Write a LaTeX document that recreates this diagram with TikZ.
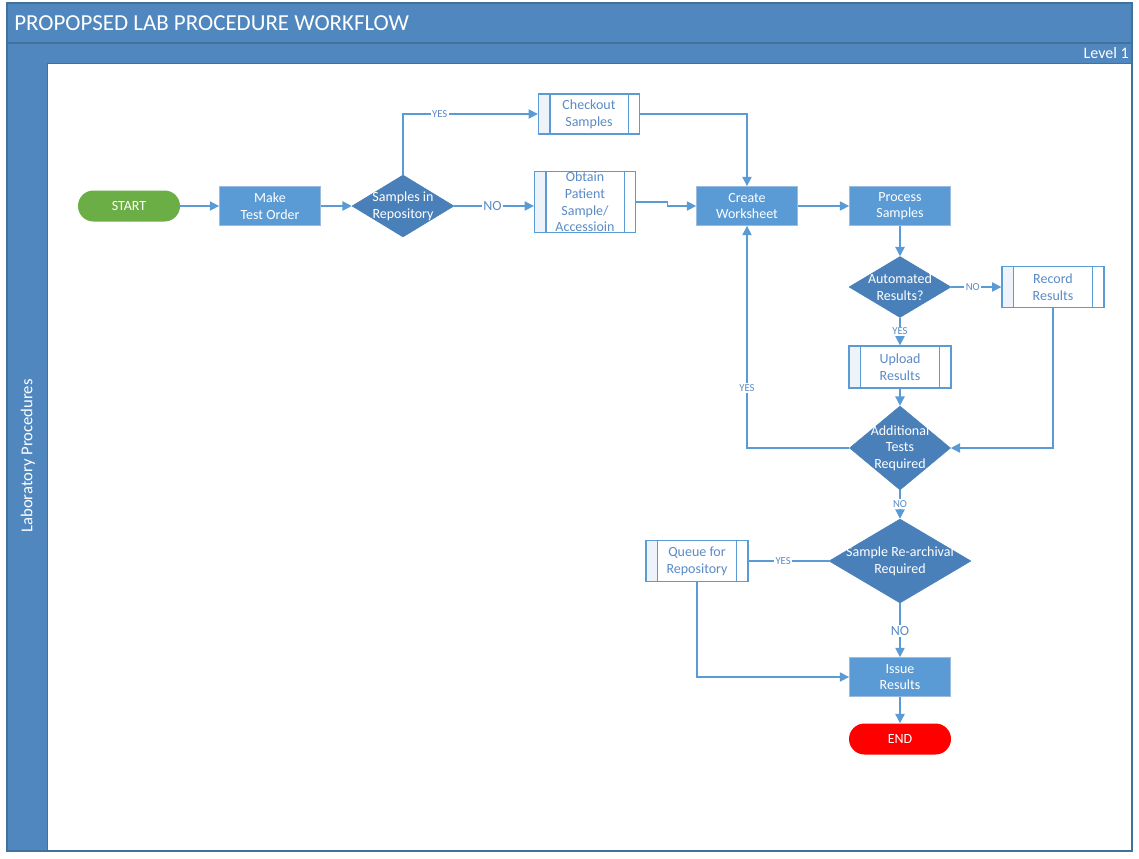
\documentclass[tikz,border=0pt]{standalone}
\usepackage{fontspec}
\setmainfont{Carlito}
\usetikzlibrary{shapes.geometric,arrows.meta,calc}

\definecolor{hdrblue}{HTML}{4F87BE}
\definecolor{hdrline}{HTML}{41719C}
\definecolor{boxblue}{HTML}{5B9BD5}
\definecolor{boxedge}{HTML}{9DBBDD}
\definecolor{dmdblue}{HTML}{4A80B9}
\definecolor{lineblue}{HTML}{5B9BD5}
\definecolor{pptext}{HTML}{5A8BC6}
\definecolor{ppstrip}{HTML}{EEF3FA}
\definecolor{startgreen}{HTML}{6AAE45}
\definecolor{endred}{HTML}{FF0000}

\tikzset{
  ntext/.style={font=\fontsize{10.5}{12.5}\selectfont, align=center, inner sep=0pt},
  procbox/.style={rectangle, fill=boxblue, draw=boxedge, line width=0.6pt,
    minimum width=75.75pt, minimum height=29.25pt, inner sep=0pt},
  dmd/.style={diamond, fill=dmdblue, draw=dmdblue, inner sep=0pt},
  ppbox/.style={rectangle, fill=white, draw=boxblue, line width=1pt,
    minimum width=75.75pt, inner sep=0pt,
    path picture={
      \fill[ppstrip] (path picture bounding box.north west) rectangle
        ([xshift=8.5pt]path picture bounding box.south west);
      \draw[boxblue, line width=1pt]
        ([xshift=8.5pt]path picture bounding box.north west) --
        ([xshift=8.5pt]path picture bounding box.south west);
      \draw[boxblue, line width=1pt]
        ([xshift=-8.5pt]path picture bounding box.north east) --
        ([xshift=-8.5pt]path picture bounding box.south east);
    }},
  pill/.style={rectangle, rounded corners=11.6pt, minimum width=76.5pt,
    minimum height=23.25pt, inner sep=0pt},
  flow/.style={draw=lineblue, line width=1pt, -{Triangle[length=7pt,width=7pt]}},
  plain/.style={draw=lineblue, line width=1pt},
  lblS/.style={font=\fontsize{8}{9}\selectfont, text=pptext, fill=white, inner sep=1pt},
  lblL/.style={font=\fontsize{10.5}{11}\selectfont, text=pptext, fill=white, inner sep=1pt},
}

\begin{document}
\begin{tikzpicture}[x=0.75pt, y=-0.75pt]
  \useasboundingbox (0,0) rectangle (1139,858);
  \fill[white] (0,0) rectangle (1139,858);

  % swimlane frame
  \fill[hdrblue] (7,3) rectangle (1132,63);
  \fill[hdrblue] (7,63) rectangle (47,851);
  \draw[hdrline, line width=0.8pt] (7,43) -- (1132,43);
  \draw[hdrline, line width=0.6pt] (47,63) -- (1132,63);
  \draw[hdrline, line width=0.6pt] (47,63) -- (47,851);
  \draw[hdrline, line width=1pt] (7,3) rectangle (1132,851);

  \node[anchor=west, text=white, font=\fontsize{17.2}{19}\selectfont, inner sep=0pt]
    (title) at (14,23) {PROPOPSED LAB PROCEDURE WORKFLOW};
  \node[anchor=east, text=white, font=\fontsize{12}{14}\selectfont, inner sep=0pt]
    (level) at (1129,53) {Level 1};
  \node[rotate=90, text=white, font=\fontsize{12.5}{14}\selectfont, inner sep=0pt]
    (lane) at (28,456) {Laboratory Procedures};

  % terminators
  \node[pill, fill=startgreen] (start) at (129,206)
    {\textcolor{white}{\fontsize{10.5}{12}\selectfont START}};
  \node[pill, fill=endred] (end) at (900,739)
    {\textcolor{white}{\fontsize{10.5}{12}\selectfont END}};

  % process steps
  \node[procbox, label={[ntext, text=white, name=make-t]center:Make\\Test Order}] (make) at (270,206) {};
  \node[procbox, label={[ntext, text=white, name=create-t]center:Create\\Worksheet}] (create) at (747,206) {};
  \node[procbox, label={[ntext, text=white, name=process-t]center:Process\\Samples}] (process) at (900,206) {};
  \node[procbox, label={[ntext, text=white, name=issue-t]center:Issue\\Results}] (issue) at (900,677) {};

  % predefined processes
  \node[ppbox, minimum height=30pt,
    label={[ntext, text=pptext, name=checkout-t]center:Checkout\\Samples}] (checkout) at (589,114) {};
  \node[ppbox, minimum height=45.75pt,
    label={[ntext, text=pptext, name=obtain-t]center:Obtain\\Patient\\Sample/\\Accessioin}] (obtain) at (585,202) {};
  \node[ppbox, minimum width=76.5pt, minimum height=30.75pt,
    label={[ntext, text=pptext, name=record-t]center:Record\\Results}] (record) at (1053,287) {};
  \node[ppbox, minimum width=76.5pt, minimum height=31.5pt,
    label={[ntext, text=pptext, name=upload-t]center:Upload\\Results}] (upload) at (900,367) {};
  \node[ppbox, minimum width=76.5pt, minimum height=30.75pt,
    label={[ntext, text=pptext, name=queue-t]center:Queue for\\Repository}] (queue) at (697,561) {};

  % decisions
  \node[dmd, minimum width=76.5pt, minimum height=46.5pt,
    label={[ntext, text=white, name=repo-t]center:Samples in\\Repository}] (repo) at (403,206) {};
  \node[dmd, minimum width=76.5pt, minimum height=45.75pt,
    label={[ntext, text=white, name=auto-t]center:Automated\\Results?}] (auto) at (900,287) {};
  \node[dmd, minimum width=75.75pt, minimum height=63pt,
    label={[ntext, text=white, name=addl-t]center:Additional\\Tests\\Required}] (addl) at (900,448) {};
  \node[dmd, minimum width=106.5pt, minimum height=63pt,
    label={[ntext, text=white, name=rearch-t]center:Sample Re-archival\\Required}] (rearch) at (900,561) {};

  % connectors
  \draw[flow] (start) -- (make);
  \draw[flow] (make) -- (repo);
  \draw[flow] (repo.north) |- node[lblS, pos=0.636] (yes1) {YES} (checkout.west);
  \draw[flow] (repo.east) -- node[lblL, pos=0.48] (no1) {NO} (repo.east -| obtain.west);
  \draw[flow] (checkout.east) -| (create.north);
  \draw[flow] (obtain.east) -- ++(31,0) |- (create.west);
  \draw[flow] (create) -- (process);
  \draw[flow] (process) -- (auto);
  \draw[flow] (auto.east) -- node[lblS, pos=0.43] (no2) {NO} (record.west);
  \draw[flow] (auto.south) -- node[lblS, pos=0.5] (yes2) {YES} (upload.north);
  \draw[flow] (upload.south) -- (addl.north);
  \draw[flow] (record.south) |- (addl.east);
  \draw[flow] (addl.west) -| node[lblS, pos=0.635] (yes3) {YES} (create.south);
  \draw[flow] (addl.south) -- node[lblS, pos=0.48] (no3) {NO} (rearch.north);
  \draw[plain] (rearch.west) -- node[lblS, pos=0.57] (yes4) {YES} (queue.east);
  \draw[flow] (rearch.south) -- node[lblL, pos=0.52] (no4) {NO} (issue.north);
  \draw[flow] (queue.south) |- (issue.west);
  \draw[flow] (issue) -- (end);
\end{tikzpicture}
\end{document}
